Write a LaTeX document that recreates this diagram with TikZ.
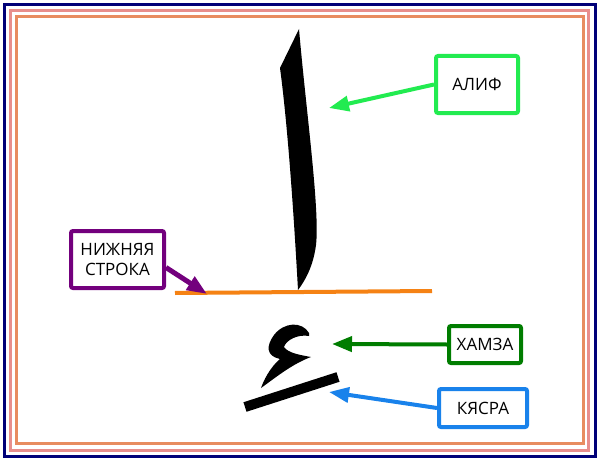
\documentclass[tikz,border=0pt]{standalone}
\usepackage{fontspec}
\setmainfont{Open Sans}
\usetikzlibrary{arrows.meta}
\usepackage{xcolor}
\definecolor{navyframe}{RGB}{0,0,120}
\definecolor{pinkframe}{RGB}{232,142,140}
\definecolor{orangeframe}{RGB}{232,140,96}
\definecolor{baseorange}{RGB}{245,130,20}
\definecolor{alifgreen}{RGB}{34,235,80}
\definecolor{hamzagreen}{RGB}{0,125,0}
\definecolor{kasrablue}{RGB}{25,130,235}
\definecolor{strokapurple}{RGB}{115,0,125}

\begin{document}
\begin{tikzpicture}[x=1pt, y=-1pt, every node/.style={font=\fontsize{17}{20}\selectfont}]
\tikzstyle{label box}=[draw, line width=4pt, rounded corners=2pt, fill=white, align=center, inner sep=2pt]
\tikzstyle{pointer}=[line width=4pt, -{Triangle[length=20pt, width=15pt]}]
\useasboundingbox (0,0) rectangle (600,460);
% frames
\draw[navyframe, line width=3pt] (4,5) rectangle (595,456);
\draw[pinkframe, line width=3pt] (10,11) rectangle (588,450);
\draw[orangeframe, line width=3pt] (16,17) rectangle (583,443);
% alif
\fill (299,29) .. controls (306,110) and (320,210) .. (316,245)
  .. controls (313,268) and (304,282) .. (298,290)
  .. controls (293,200) and (287,120) .. (280,68) -- cycle;
% baseline
\draw[baseorange, line width=4pt] (175,293) -- (432,291);
% hamza
\fill (309,333) .. controls (302,321) and (284,322) .. (274,335)
  .. controls (266,346) and (266,356) .. (280,359)
  .. controls (274,364) and (266,374) .. (261,388)
  .. controls (275,378) and (292,364) .. (311,357)
  .. controls (300,355) and (288,353) .. (284,347)
  .. controls (286,340) and (298,334) .. (309,336) -- cycle;
% kasra
\draw[line width=10pt, rounded corners=1pt] (245,407) -- (338,377);
% labels
\node[label box, draw=alifgreen, minimum width=82pt, minimum height=57pt] (lalif) at (477,84.5) {АЛИФ};
\node[label box, draw=strokapurple, minimum width=93pt, minimum height=57pt] (lstroka) at (117.5,259.5) {НИЖНЯЯ\\СТРОКА};
\node[label box, draw=hamzagreen, minimum width=72pt, minimum height=37pt] (lhamza) at (485,344.5) {ХАМЗА};
\node[label box, draw=kasrablue, minimum width=88pt, minimum height=38pt] (lkasra) at (483,408) {КЯСРА};
\coordinate (alif tip) at (329,108);
\coordinate (line tip) at (207,294);
\coordinate (hamza tip) at (332,344);
\coordinate (kasra tip) at (329,392);
\draw[pointer, alifgreen] (lalif.west) -- (alif tip);
\draw[pointer, strokapurple, line width=5pt] ([yshift=-8pt]lstroka.east) -- (line tip);
\draw[pointer, hamzagreen] (lhamza.west) -- (hamza tip);
\draw[pointer, kasrablue] (lkasra.west) -- (kasra tip);
\end{tikzpicture}
\end{document}
